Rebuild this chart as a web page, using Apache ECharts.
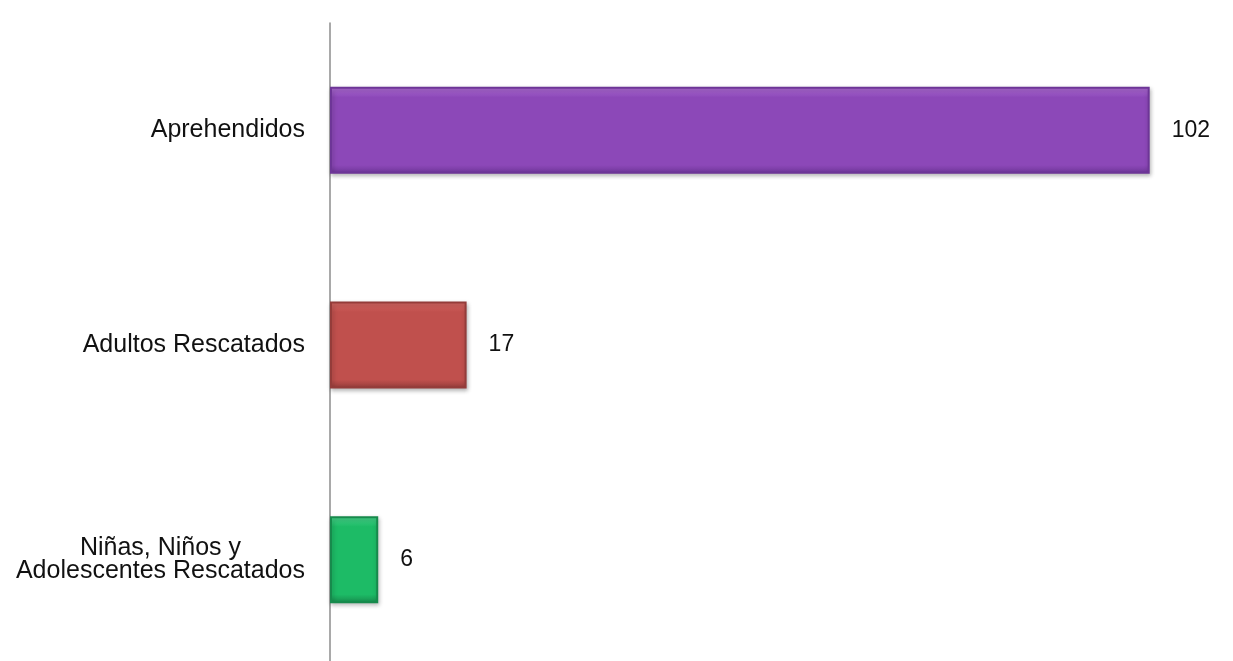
<!DOCTYPE html>
<html>
<head>
<meta charset="utf-8">
<script src="https://cdn.jsdelivr.net/npm/echarts@6/dist/echarts.min.js"></script>
<style>
html,body{margin:0;padding:0;background:#fff;overflow:hidden;}
#chart{width:1233px;height:680px;}
</style>
</head>
<body>
<div id="chart"></div>
<script>
const categories = ['Aprehendidos', 'Adultos Rescatados', 'Niñas, Niños y\nAdolescentes Rescatados'];
const values = [102, 17, 6];
const barColors = [
  ['#b16fd8', '#8c48b8', '#6d3597'],
  ['#d86a66', '#c0504d', '#943c3a'],
  ['#4ad88e', '#1dbb66', '#178a4c']
];

const chart = echarts.init(document.getElementById('chart'));
chart.setOption({
  backgroundColor: '#ffffff',
  animation: false,
  grid: { left: 330, right: 19, top: 23, height: 644, containLabel: false },
  xAxis: {
    type: 'value', min: 0, max: 110,
    show: false
  },
  yAxis: {
    type: 'category',
    inverse: true,
    data: categories,
    axisLine: { show: true, lineStyle: { color: '#8c8c8c', width: 1.5 } },
    axisTick: { show: false },
    axisLabel: {
      margin: 25,
      color: '#111',
      fontFamily: 'Liberation Sans, Arial, sans-serif',
      fontSize: 25,
      lineHeight: 23,
      formatter: function (v) {
        return v.split('\n').map(l => '{a|' + l + '}').join('\n');
      },
      rich: { a: { align: 'center', fontSize: 25, lineHeight: 23, fontFamily: 'Liberation Sans, Arial, sans-serif', color: '#111' } }
    }
  },
  series: [{
    type: 'bar',
    barWidth: 87,
    data: values.map((v, i) => ({
      value: v,
      itemStyle: {
        color: new echarts.graphic.LinearGradient(0, 0, 0, 1, [
          { offset: 0, color: barColors[i][0] },
          { offset: 0.12, color: barColors[i][1] },
          { offset: 0.9, color: barColors[i][1] },
          { offset: 1, color: barColors[i][2] }
        ]),
        borderColor: barColors[i][2],
        borderWidth: 2,
        shadowColor: 'rgba(0,0,0,0.25)',
        shadowBlur: 4,
        shadowOffsetX: 1,
        shadowOffsetY: 2
      }
    })),
    label: {
      show: true,
      position: 'right',
      distance: 22,
      color: '#111',
      fontFamily: 'Liberation Sans, Arial, sans-serif',
      fontSize: 23
    }
  }]
});
</script>
</body>
</html>
